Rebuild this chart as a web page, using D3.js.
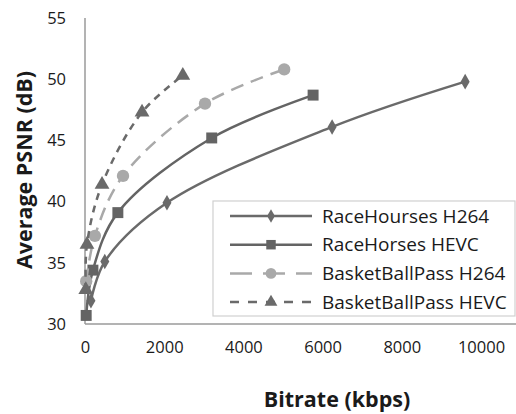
<!DOCTYPE html>
<html>
<head>
<meta charset="utf-8">
<script src="https://cdn.jsdelivr.net/npm/d3@7"></script>
<style>
  body { margin: 0; background: #fff; }
  text { font-family: "Open Sans", sans-serif; fill: #1a1a1a; }
</style>
</head>
<body>
<div class="chart"></div>
<script>
// data
var seriesNames = ["RaceHourses H264", "RaceHorses HEVC", "BasketBallPass H264", "BasketBallPass HEVC"];
var raceH264 = [[150, 31.9], [500, 35.1], [2070, 39.9], [6240, 46.1], [9600, 49.8]];
var raceHEVC = [[30, 30.7], [200, 34.4], [830, 39.1], [3200, 45.2], [5760, 48.7]];
var basketH264 = [[30, 33.5], [250, 37.2], [960, 42.1], [3030, 48.0], [5030, 50.8]];
var basketHEVC = [[20, 32.8], [50, 36.5], [430, 41.4], [1440, 47.3], [2470, 50.3]];
var xTicks = [0, 2000, 4000, 6000, 8000, 10000];
var yTicks = [30, 35, 40, 45, 50, 55];

var outerWidth = 516, outerHeight = 414,
    margin = {left: 85, top: 18, right: 0, bottom: 90},
    width = outerWidth - margin.left - margin.right,
    height = outerHeight - margin.top - margin.bottom;

var xScale = d3.scaleLinear().domain([0, 10000]).range([0, 396]),
    yScale = d3.scaleLinear().domain([30, 55]).range([height, 0]);

var series = [
  {name: seriesNames[0], values: raceH264, color: "#6a6a6a", dash: null, marker: "diamond"},
  {name: seriesNames[1], values: raceHEVC, color: "#646464", dash: null, marker: "square"},
  {name: seriesNames[2], values: basketH264, color: "#a9a9a9", dash: "13,8", marker: "circle"},
  {name: seriesNames[3], values: basketHEVC, color: "#6a6a6a", dash: "7,6", marker: "triangle"}
];

var symbolType = {
  diamond: d3.symbolDiamond, square: d3.symbolSquare,
  circle: d3.symbolCircle, triangle: d3.symbolTriangle
};
var symbolSize = {diamond: 70, square: 120, circle: 120, triangle: 95};

var svg = d3.select(".chart").append("svg")
    .attr("width", outerWidth)
    .attr("height", outerHeight);

var g = svg.append("g")
    .attr("transform", "translate(" + margin.left + "," + margin.top + ")");

// axes
var xAxis = d3.axisBottom(xScale).tickValues(xTicks).tickFormat(d3.format("d")).tickSize(0).tickPadding(17),
    yAxis = d3.axisLeft(yScale).tickValues(yTicks).tickFormat(d3.format("d")).tickSize(0).tickPadding(19);

var gx = g.append("g")
    .attr("class", "xAxis")
    .attr("transform", "translate(0," + height + ")")
    .call(xAxis);
gx.select(".domain").remove();
gx.append("line").attr("x1", 0).attr("x2", width).attr("stroke", "#9a9a9a").attr("stroke-width", 1.5);
gx.selectAll("text").style("font-size", "16.5px").style("fill", "#1a1a1a").style("font-family", "Open Sans");

var gy = g.append("g")
    .attr("class", "yAxis")
    .call(yAxis);
gy.select(".domain").remove();
gy.append("line").attr("y1", 0).attr("y2", height).attr("stroke", "#9a9a9a").attr("stroke-width", 1.5);
gy.selectAll("text").style("font-size", "16.5px").style("fill", "#1a1a1a").style("font-family", "Open Sans");

// lines
var line = d3.line()
    .x(function(d) { return xScale(d[0]); })
    .y(function(d) { return yScale(d[1]); })
    .curve(d3.curveCatmullRom.alpha(0.5));

var sg = g.selectAll(".series")
    .data(series)
    .enter().append("g")
    .attr("class", "series");

sg.append("path")
    .attr("d", function(d) { return line(d.values); })
    .attr("fill", "none")
    .attr("stroke", function(d) { return d.color; })
    .attr("stroke-width", 2.5)
    .attr("stroke-dasharray", function(d) { return d.dash; });

sg.each(function(s) {
  d3.select(this).selectAll(".pt")
    .data(s.values)
    .enter().append("path")
    .attr("class", "pt")
    .attr("transform", function(d) { return "translate(" + xScale(d[0]) + "," + yScale(d[1]) + ")"; })
    .attr("d", d3.symbol().type(symbolType[s.marker]).size(symbolSize[s.marker]))
    .attr("fill", s.color);
});

// legend
var legend = svg.append("g")
    .attr("class", "legend")
    .attr("transform", "translate(213,201)");

legend.append("rect")
    .attr("width", 302)
    .attr("height", 115)
    .attr("fill", "#fff")
    .attr("stroke", "#d0d0d0")
    .attr("stroke-width", 1.2);

var item = legend.selectAll(".item")
    .data(series)
    .enter().append("g")
    .attr("class", "item")
    .attr("transform", function(d, i) { return "translate(0," + (15 + i * 28.7) + ")"; });

item.append("line")
    .attr("x1", 17).attr("x2", 99)
    .attr("stroke", function(d) { return d.color; })
    .attr("stroke-width", 2.5)
    .attr("stroke-dasharray", function(d) { return d.dash ? (d.marker === "circle" ? "22,11" : "9,9") : null; });

item.append("path")
    .attr("transform", "translate(58,0)")
    .attr("d", function(d) { return d3.symbol().type(symbolType[d.marker]).size(symbolSize[d.marker] * 0.75)(); })
    .attr("fill", function(d) { return d.color; });

item.append("text")
    .attr("x", 109)
    .attr("dy", "0.35em")
    .style("font-size", "19px")
    .text(function(d) { return d.name; });

// axis titles
svg.append("text")
    .attr("x", 337)
    .attr("y", 407)
    .attr("text-anchor", "middle")
    .style("font-size", "21.5px")
    .style("font-weight", "bold")
    .text("Bitrate (kbps)");

svg.append("text")
    .attr("transform", "translate(32,170) rotate(-90)")
    .attr("text-anchor", "middle")
    .style("font-size", "21.5px")
    .style("font-weight", "bold")
    .text("Average PSNR (dB)");
</script>
</body>
</html>
